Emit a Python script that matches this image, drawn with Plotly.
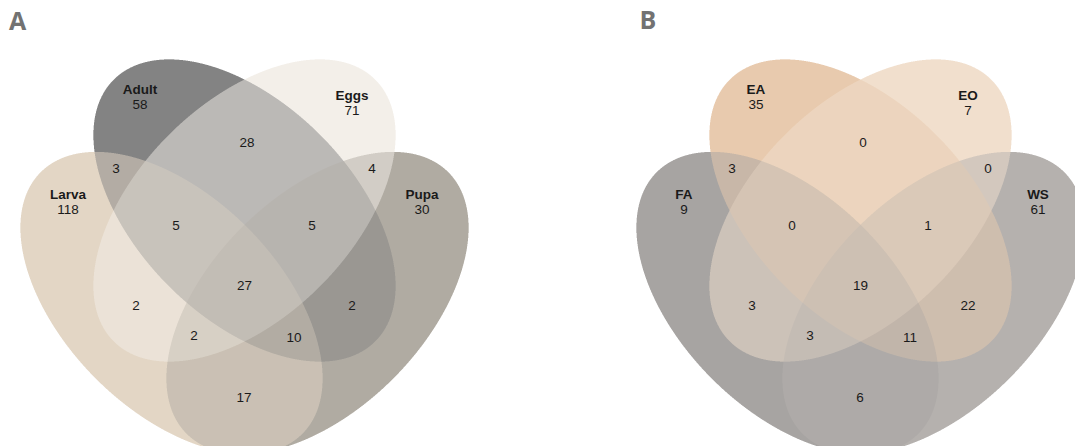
import numpy as np
import plotly.graph_objects as go

W, H = 1075, 446

# ---- data -------------------------------------------------------------
# membership pattern of each Venn region (1 = inside the set, same order as the set lists)
regions = ["1000", "0100", "0010", "0001",
           "1100", "0110", "0011", "1010", "0101", "1001",
           "1110", "0111", "1011", "1101", "1111"]

sets_a = ["Larva", "Adult", "Eggs", "Pupa"]
counts_a = [118, 58, 71, 30, 3, 28, 4, 2, 2, 17, 5, 5, 2, 10, 27]

sets_b = ["FA", "EA", "EO", "WS"]
counts_b = [9, 35, 7, 61, 3, 0, 0, 3, 22, 6, 0, 1, 3, 11, 19]

panel_titles = ["A", "B"]

# ---- styles / layout --------------------------------------------------
colors_a = ["#e3d6c5", "#838383", "#f3efe9", "#b0aba2"]
colors_b = ["#a7a4a2", "#e8caae", "#f1dfcd", "#b5b1ae"]

# ellipse geometry in panel-local pixels: centre x, centre y, tilt (deg)
ELL_A, ELL_B = 185.0, 107.0
ellipse_geom = [
    (171.5, 303.0, 45.0),
    (244.5, 210.5, 45.0),
    (244.5, 210.5, -45.0),
    (317.5, 303.0, -45.0),
]
panel_offsets = [0.0, 616.0]

# label anchor per region, panel-local pixels
label_xy = [
    (68, 196), (140, 91), (352, 97), (422, 196),
    (116, 170), (247, 144), (372, 170), (136, 307), (352, 307), (244, 399),
    (176, 227), (312, 227), (194, 337), (294, 339), (244.5, 287),
]
title_xy = [(17.5, 23.5), (648.0, 23.0)]

FONT = "Liberation Sans, Arial, sans-serif"
TXT = "#1a1a1a"


def hex_rgb(h):
    h = h.lstrip("#")
    return np.array([int(h[i:i + 2], 16) for i in (0, 2, 4)], dtype=np.float32)


# ---- raster of the overlapping ellipses -------------------------------
# each region is shaded with the mean colour of the sets covering it
S = 3
xs = (np.arange(W * S, dtype=np.float32) + 0.5) / S
ys = (np.arange(H * S, dtype=np.float32) + 0.5) / S
X, Y = np.meshgrid(xs, ys)
acc = np.zeros((H * S, W * S, 3), dtype=np.float32)
cnt = np.zeros((H * S, W * S), dtype=np.float32)

for off, cols in zip(panel_offsets, [colors_a, colors_b]):
    for (cx, cy, ang), col in zip(ellipse_geom, cols):
        t = np.deg2rad(ang)
        dx = X - (cx + off)
        dy = Y - cy
        u = dx * np.cos(t) + dy * np.sin(t)
        v = -dx * np.sin(t) + dy * np.cos(t)
        inside = (u / ELL_A) ** 2 + (v / ELL_B) ** 2 <= 1.0
        acc += inside[..., None] * hex_rgb(col)
        cnt += inside

rgb = np.where(cnt[..., None] > 0, acc / np.maximum(cnt, 1)[..., None], 255.0)
rgb = rgb.reshape(H, S, W, S, 3).mean(axis=(1, 3))
img = np.clip(np.rint(rgb), 0, 255).astype(np.uint8)

fig = go.Figure()
fig.add_trace(go.Image(z=img.tolist(), x0=0.5, dx=1, y0=0.5, dy=1,
                       hoverinfo="skip"))

# ---- text labels ------------------------------------------------------
for off, names, counts in zip(panel_offsets, [sets_a, sets_b], [counts_a, counts_b]):
    name_x, name_y, num_x, num_y, num_t = [], [], [], [], []
    names_txt = []
    for key, n, (lx, ly) in zip(regions, counts, label_xy):
        if key.count("1") == 1:
            idx = key.index("1")
            name_x.append(lx + off)
            name_y.append(ly)
            names_txt.append(f"<b>{names[idx]}</b>")
            num_x.append(lx + off)
            num_y.append(ly + 15)
        else:
            num_x.append(lx + off)
            num_y.append(ly)
        num_t.append(str(n))
    fig.add_trace(go.Scatter(x=name_x, y=name_y, text=names_txt, mode="text",
                             textposition="middle center", hoverinfo="skip",
                             textfont=dict(family=FONT, size=13.5, color=TXT)))
    fig.add_trace(go.Scatter(x=num_x, y=num_y, text=num_t, mode="text",
                             textposition="middle center", hoverinfo="skip",
                             textfont=dict(family=FONT, size=13.5, color=TXT)))

fig.add_trace(go.Scatter(x=[p[0] for p in title_xy], y=[p[1] for p in title_xy],
                         text=[f"<b>{t}</b>" for t in panel_titles], mode="text",
                         textposition="middle center", hoverinfo="skip",
                         textfont=dict(family="Open Sans, sans-serif", size=25,
                                       color="#727272")))

fig.update_layout(
    width=W, height=H,
    margin=dict(l=0, r=0, t=0, b=0),
    paper_bgcolor="white", plot_bgcolor="white",
    showlegend=False,
    xaxis=dict(range=[0, W], visible=False, fixedrange=True),
    yaxis=dict(range=[H, 0], visible=False, fixedrange=True),
)

fig.write_html("out.html")
